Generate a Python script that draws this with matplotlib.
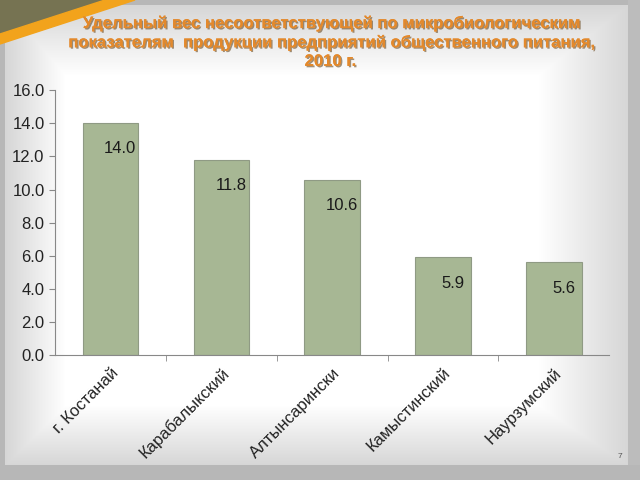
import matplotlib
matplotlib.use("Agg")
import matplotlib.pyplot as plt
import matplotlib.patheffects as pe
from matplotlib.patches import Polygon
import numpy as np

plt.rcParams['font.family'] = ['Liberation Sans', 'DejaVu Sans']

# data
districts = ["г. Костанай", "Карабалыкский", "Алтынсарински", "Камыстинский", "Наурзумский"]
shares = [14.0, 11.8, 10.6, 5.9, 5.6]
title = ("Удельный вес несоответствующей по микробиологическим\n"
         "показателям  продукции предприятий общественного питания,\n"
         "2010 г.")

fig = plt.figure(figsize=(6.4, 4.8), dpi=100)

# slide background: grey frame fading to white
bg = fig.add_axes([0, 0, 1, 1], zorder=-5)
h, w = 480, 640
yy, xx = np.mgrid[0:h, 0:w]
dist = np.minimum.reduce([(xx - 5) / 60.0, (w - 12 - xx) / 90.0, (yy - 5) / 70.0, (h - 15 - yy) / 60.0])
shade = 0.84 + 0.16 * np.clip(dist, 0, 1)
img = np.dstack([shade, shade, shade])
img[:, :5, :] = 0.72
img[:5, :, :] = 0.72
img[:, w - 12:, :] = 0.74
img[h - 15:, :, :] = 0.72
bg.imshow(img, extent=[0, w, h, 0], aspect='auto')
bg.add_patch(Polygon([[0, 0], [105, 0], [0, 34]], closed=True, color='#767352'))
bg.add_patch(Polygon([[0, 34], [105, 0], [135, 0], [0, 44]], closed=True, color='#f2a31c'))
bg.set_xlim(0, w)
bg.set_ylim(h, 0)
bg.axis('off')

fig.text(0.516, 0.912, title, ha='center', va='center', fontsize=12,
         fontweight='bold', color='#e3892c', linespacing=1.3,
         path_effects=[pe.withSimplePatchShadow(offset=(1.0, -1.0),
                                                shadow_rgbFace='#6b4a20', alpha=0.6),
                       pe.Normal()])

ax = fig.add_axes([0.086, 0.26, 0.866, 0.552])
ax.patch.set_alpha(0)
x = np.arange(len(districts))
bars = ax.bar(x, shares, width=0.5, color='#a7b794', edgecolor='#8f9a84', linewidth=0.8)

for xi, v in zip(x, shares):
    ax.annotate(f"{v:.1f}", (xi, v), xytext=(7, -13), textcoords='offset points',
                ha='center', va='top', fontsize=12, color='#1a1a1a')

ax.set_xlim(-0.5, len(districts) - 0.5)
ax.set_ylim(0, 16)
ax.set_yticks(np.arange(0, 16.1, 2))
ax.set_yticklabels([f"{t:.1f}" for t in np.arange(0, 16.1, 2)])
ax.set_xticks(x)
ax.set_xticklabels(districts, rotation=45, ha='right', rotation_mode='anchor')
ax.set_xticks(np.arange(0.5, len(districts) - 0.5), minor=True)
ax.tick_params(axis='x', which='major', length=0, pad=7, labelsize=12, labelcolor='#222222')
ax.tick_params(axis='x', which='minor', length=4, color='#888888', direction='out')
ax.tick_params(axis='y', length=4, color='#888888', labelsize=12, labelcolor='#222222')
for s in ['top', 'right']:
    ax.spines[s].set_visible(False)
for s in ['left', 'bottom']:
    ax.spines[s].set_color('#888888')

fig.text(0.969, 0.045, "7", fontsize=6, color='#555555', ha='center')

plt.savefig("out.png", dpi=100)
